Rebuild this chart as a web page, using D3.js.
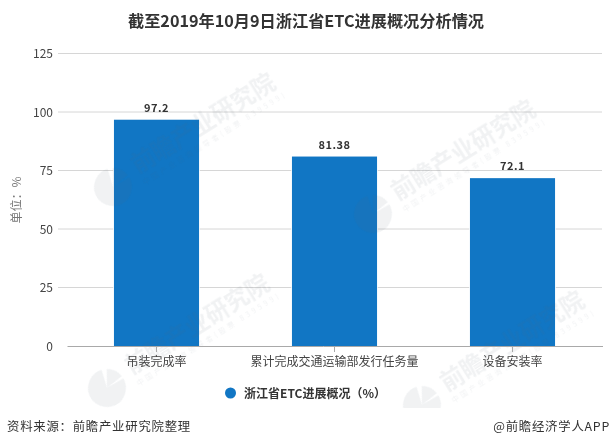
<!DOCTYPE html>
<html>
<head>
<meta charset="utf-8">
<script src="https://cdn.jsdelivr.net/npm/d3@7"></script>
<style>
  html, body { margin: 0; padding: 0; background: #fff; }
  svg { display: block; }
  text { font-family: "Noto Sans CJK SC", "Noto Sans", sans-serif; }
</style>
</head>
<body>
<div id="chart"></div>
<script>
// data
const categories = ["吊装完成率", "累计完成交通运输部发行任务量", "设备安装率"];
const seriesValues = [97.2, 81.38, 72.1];
const valueLabels = ["97.2", "81.38", "72.1"];
const yTicks = [0, 25, 50, 75, 100, 125];

// watermark stamps: logo centre, in px
const stampX = [113, 373, 107, 422];
const stampY = [187, 214, 388, 405];

const W = 612, H = 447;
const BLUE = "#1176c4";

const svg = d3.select("#chart").append("svg")
  .attr("width", W).attr("height", H)
  .attr("viewBox", `0 0 ${W} ${H}`);

const x = d3.scaleBand()
  .domain(categories)
  .range([67.5, 601.5])
  .paddingInner(0.522)
  .paddingOuter(0.261);

const y = d3.scaleLinear().domain([0, 125]).range([346, 53.5]);
// bars in the source sit a touch under the gridline scale
const barY = d3.scaleLinear().domain([0, 125]).range([346, 55]);

// --- gridlines ---
svg.append("g").selectAll("line")
  .data(yTicks.filter((d) => d > 0))
  .join("line")
  .attr("x1", 58).attr("x2", 602)
  .attr("y1", (d) => y(d)).attr("y2", (d) => y(d))
  .attr("stroke", "#d6d6d6").attr("stroke-width", 1);

// --- bars ---
svg.append("g").selectAll("rect")
  .data(categories)
  .join("rect")
  .attr("x", (d) => x(d))
  .attr("y", (d, i) => barY(seriesValues[i]))
  .attr("width", x.bandwidth())
  .attr("height", (d, i) => barY(0) - barY(seriesValues[i]))
  .attr("fill", BLUE)
  .attr("stroke", "#fff").attr("stroke-width", 1.5)
  .attr("paint-order", "stroke");

// --- watermark, over the bars ---
const markG = svg.append("g").attr("class", "watermark")
  .attr("fill", "#5a6a7a").attr("opacity", 0.09);
const logoArc = d3.arc().innerRadius(0).outerRadius(19);
stampX.forEach((sx, i) => {
  const g = markG.append("g")
    .attr("transform", `translate(${sx},${stampY[i]}) rotate(-32)`);
  g.append("path").attr("d", logoArc({ startAngle: 0.55, endAngle: 1.45 }));
  g.append("path").attr("d", logoArc({ startAngle: 1.6, endAngle: 6.55 }));
  g.append("text").attr("x", 28).attr("y", 2)
    .attr("font-size", 23.5).attr("font-weight", 700)
    .text("前瞻产业研究院");
  g.append("text").attr("x", 28).attr("y", 15)
    .attr("font-size", 7).attr("textLength", 166)
    .text("中国产业咨询领导者(股票 839599)");
});

// white band the footer sits on
svg.append("rect")
  .attr("x", 0).attr("y", 408).attr("width", W).attr("height", H - 408)
  .attr("fill", "#fff");

// --- x axis ---
const xAxis = svg.append("g")
  .attr("transform", `translate(0,${y(0)})`)
  .call(d3.axisBottom(x).tickSize(6).tickPadding(5));
xAxis.select(".domain").attr("stroke", "#a9a9a9").attr("d", "M67.5,0.5H603");
xAxis.selectAll(".tick line").attr("stroke", "#a9a9a9");
xAxis.selectAll(".tick text")
  .attr("font-family", "\"Noto Sans CJK SC\"")
  .attr("font-size", 12).attr("fill", "#444");

// --- y tick labels ---
svg.append("g").selectAll("text")
  .data(yTicks)
  .join("text")
  .attr("x", 53).attr("y", (d) => y(d) + 4.5)
  .attr("text-anchor", "end")
  .attr("font-family", "\"Liberation Sans\"")
  .attr("font-size", 12).attr("fill", "#444")
  .text((d) => d);

// --- value labels ---
svg.append("g").selectAll("text")
  .data(categories)
  .join("text")
  .attr("x", (d) => x(d) + x.bandwidth() / 2)
  .attr("y", (d, i) => barY(seriesValues[i]) - 8)
  .attr("text-anchor", "middle")
  .attr("font-family", "\"DejaVu Sans\"")
  .attr("font-size", 11).attr("font-weight", 700)
  .attr("letter-spacing", 0.5)
  .attr("fill", "#333")
  .text((d, i) => valueLabels[i]);

// --- title ---
svg.append("text")
  .attr("x", 306).attr("y", 27)
  .attr("text-anchor", "middle")
  .attr("font-size", 16.2).attr("font-weight", 700)
  .attr("fill", "#333")
  .text("截至2019年10月9日浙江省ETC进展概况分析情况");

// --- y axis title ---
svg.append("text")
  .attr("transform", "translate(21,200) rotate(-90)")
  .attr("text-anchor", "middle")
  .attr("font-size", 12).attr("fill", "#777")
  .text("单位：%");

// --- legend ---
svg.append("circle")
  .attr("cx", 230.5).attr("cy", 393).attr("r", 5.5).attr("fill", BLUE);
svg.append("text")
  .attr("x", 244).attr("y", 397.5)
  .attr("font-size", 12).attr("font-weight", 700)
  .attr("fill", "#333")
  .text("浙江省ETC进展概况（%）");

// --- footer ---
svg.append("text")
  .attr("x", 7).attr("y", 431)
  .attr("font-size", 12.4).attr("letter-spacing", 0.75)
  .attr("fill", "#333")
  .text("资料来源：前瞻产业研究院整理");
svg.append("text")
  .attr("x", 610).attr("y", 431)
  .attr("text-anchor", "end")
  .attr("font-size", 12.4).attr("letter-spacing", 0.75)
  .attr("fill", "#333")
  .text("@前瞻经济学人APP");
</script>
</body>
</html>
